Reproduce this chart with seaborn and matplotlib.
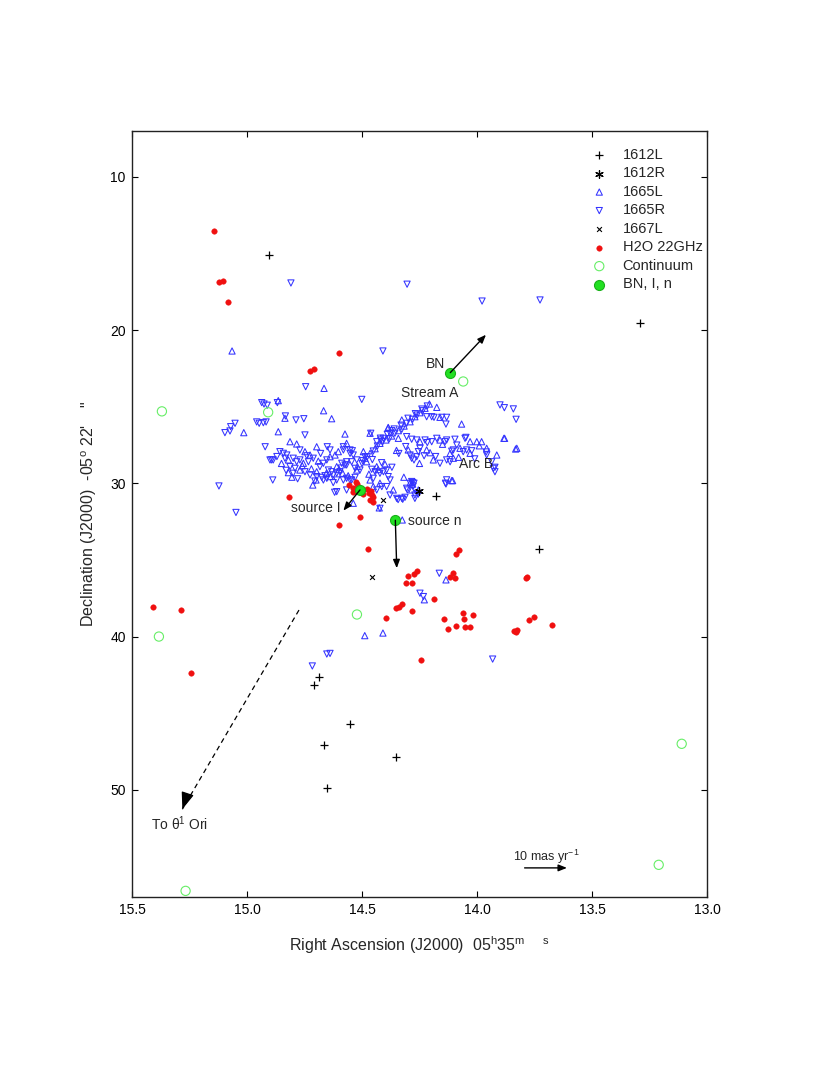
import seaborn as sns
import matplotlib.pyplot as plt
import numpy as np
import pandas as pd

width, height, my_dpi = 825, 1089, 100

# positions: RA seconds (05h35m) and Dec arcsec (-05d22')
l1612_ra = [14.904, 13.290, 14.178, 13.730, 14.688, 14.710, 14.552, 14.667, 14.352, 14.652]
l1612_dec = [15.09, 19.53, 30.80, 34.28, 42.64, 43.16, 45.69, 47.08, 47.86, 49.89]

r1612_ra = [14.252]
r1612_dec = [30.53]

l1667_ra = [14.410, 14.457]
l1667_dec = [31.09, 36.09]

l1665_ra = [15.065, 14.425, 14.325, 14.488, 14.409, 14.135, 13.880, 13.827, 14.665, 14.864,
            14.667, 14.632, 14.835, 15.014, 14.864, 14.813, 14.229, 14.538, 14.700, 14.714,
            14.697, 14.784, 14.748, 14.820, 14.755, 14.726, 14.770, 14.820, 14.697, 14.639,
            14.639, 14.610, 14.603, 14.567, 14.617, 14.523, 14.574, 14.494, 14.480, 14.436,
            14.465, 14.422, 14.451, 14.584, 14.386, 14.465, 14.342, 14.175, 14.248, 14.161,
            14.030, 14.001, 13.980, 13.958, 13.883, 13.832, 13.914, 14.074, 14.030, 14.117,
            14.103, 14.190, 14.219, 14.204, 14.299, 14.110, 14.284, 14.364, 14.255, 14.106,
            14.161, 14.067, 14.327, 14.386, 14.290, 14.280,
            14.207, 14.226, 14.248, 14.270, 14.291, 14.317, 14.342, 14.371, 14.396, 14.422,
            14.443, 14.465, 14.487,
            14.850, 14.805, 14.760, 14.720, 14.690, 14.655, 14.600, 14.560, 14.520, 14.470,
            14.430, 14.400, 14.350, 14.318, 14.250, 14.150, 14.080, 13.990]
l1665_dec = [21.36, 31.60, 32.39, 39.94, 39.77, 36.30, 27.06, 27.71, 23.80, 24.60,
             25.26, 25.78, 25.75, 26.69, 26.63, 27.28, 37.60, 31.30, 29.78, 30.11,
             27.61, 27.43, 27.93, 28.47, 28.69, 28.15, 29.13, 29.30, 29.24, 28.26,
             29.56, 28.91, 27.93, 27.39, 28.15, 29.13, 26.78, 27.93, 28.59, 28.91,
             29.78, 29.99, 30.21, 29.34, 26.35, 26.73, 27.06, 25.04, 27.28, 27.17,
             27.28, 27.28, 27.28, 27.71, 27.06, 27.76, 28.15, 27.71, 28.04, 28.04,
             28.36, 28.47, 27.82, 28.00, 27.82, 29.82, 30.43, 30.43, 30.43, 29.82,
             25.69, 26.13, 25.86, 26.39, 29.95, 30.05,
             24.82, 25.10, 25.39, 25.65, 25.98, 26.26, 26.56, 26.91, 27.17, 27.39,
             27.74, 28.04, 28.36,
             28.70, 29.60, 28.85, 29.05, 28.55, 29.35, 29.10, 29.50, 28.90, 29.40,
             29.10, 28.75, 27.85, 29.60, 28.70, 27.45, 28.30, 27.55]

r1665_ra = [14.809, 14.304, 13.978, 13.726, 14.409, 15.122, 15.048, 14.716, 14.653, 14.639,
            14.248, 14.233, 14.164, 13.932, 14.343, 14.323, 14.313, 13.900, 13.881, 13.842,
            13.830, 14.501, 14.745, 14.936, 14.926, 14.912, 14.868, 14.833, 14.787, 14.753,
            15.096, 15.074, 15.071, 15.052, 14.958, 14.947, 14.929, 14.917, 14.748, 14.921,
            14.886, 14.900, 14.893, 14.888, 14.770, 14.842, 14.827, 14.835, 14.857, 14.799,
            14.784, 14.770, 14.733, 14.712, 14.813, 14.791, 14.748, 14.799, 14.726, 14.683,
            14.668, 14.653, 14.646, 14.632, 14.697, 14.675, 14.661, 14.668, 14.653, 14.625,
            14.610, 14.596, 14.588, 14.574, 14.567, 14.581, 14.552, 14.542, 14.651, 14.639,
            14.610, 14.581, 14.552, 14.530, 14.610, 14.567, 14.619, 14.581, 14.552, 14.538,
            14.545, 14.523, 14.567, 14.530, 14.509, 14.487, 14.458, 14.443, 14.422, 14.407,
            14.393, 14.451, 14.386, 14.378, 14.414, 14.393, 14.436, 14.567, 14.545, 14.462,
            14.436, 14.419, 14.407, 14.371, 14.378, 14.153, 14.132, 14.219, 14.197, 14.187,
            14.135, 14.048, 14.306, 14.284, 14.262, 14.226, 14.216, 14.197, 14.175, 14.139,
            14.132, 14.096, 14.088, 14.052, 13.958, 13.936, 13.922, 13.929, 13.922, 14.060,
            14.045, 14.023, 14.103, 14.132, 14.117, 14.248, 14.255, 14.161, 14.291, 14.284,
            14.274, 14.262, 14.132, 14.135, 14.137, 14.284, 14.274, 14.277, 14.306, 14.349,
            14.327, 14.270, 14.255, 14.378, 14.422, 14.270, 14.260, 14.303, 14.290, 14.280,
            14.216, 14.236, 14.260, 14.280, 14.306, 14.327, 14.357, 14.381, 14.410, 14.433,
            14.451, 14.477, 14.497, 14.240, 14.268, 14.300, 14.330, 14.360, 14.390, 14.420,
            14.870, 14.830, 14.780, 14.740, 14.705, 14.680, 14.625, 14.590, 14.500, 14.455,
            14.415, 14.370, 14.340, 14.310, 14.230, 14.180, 14.110, 14.010, 13.960]
r1665_dec = [16.92, 17.00, 18.10, 18.03, 21.36, 30.17, 31.90, 41.92, 41.14, 41.10,
             37.17, 37.39, 35.87, 41.47, 31.06, 31.04, 30.91, 24.88, 25.06, 25.14,
             25.82, 24.52, 23.69, 24.73, 24.82, 24.90, 24.73, 25.60, 25.86, 25.78,
             26.69, 26.58, 26.30, 26.08, 25.99, 26.08, 26.04, 25.99, 26.84, 27.61,
             28.47, 28.47, 28.47, 29.78, 27.82, 28.04, 28.15, 28.36, 27.93, 28.36,
             28.59, 28.47, 28.59, 28.36, 28.91, 29.02, 29.24, 29.34, 29.45, 28.91,
             28.69, 28.47, 29.13, 29.24, 29.56, 29.61, 29.50, 29.78, 29.67, 29.45,
             29.34, 29.24, 28.69, 28.80, 28.59, 27.82, 28.04, 27.87, 27.61, 27.82,
             29.78, 29.78, 29.78, 29.61, 30.54, 30.43, 30.58, 27.61, 27.82, 28.15,
             28.59, 28.47, 28.80, 29.02, 29.13, 28.26, 29.08, 29.24, 29.34, 29.24,
             29.13, 29.67, 29.56, 29.78, 30.21, 30.21, 30.43, 29.67, 29.78, 26.73,
             27.28, 27.17, 27.06, 26.56, 26.73, 25.69, 25.69, 25.65, 25.65, 25.69,
             26.13, 27.00, 26.95, 27.12, 27.17, 27.17, 27.34, 27.28, 27.06, 27.28,
             27.17, 27.12, 27.50, 27.06, 28.15, 28.59, 29.24, 29.02, 28.95, 27.93,
             27.82, 27.87, 27.82, 28.47, 28.59, 27.71, 27.93, 28.69, 28.15, 28.36,
             28.47, 28.26, 29.77, 30.04, 29.99, 29.88, 29.99, 30.17, 30.32, 30.98,
             30.98, 30.98, 30.70, 30.76, 31.63, 30.76, 30.65, 30.43, 30.00, 29.95,
             24.95, 25.26, 25.54, 25.82, 26.08, 26.47, 26.73, 27.08, 27.28, 27.56,
             27.89, 28.26, 28.52, 25.15, 25.45, 25.75, 26.20, 26.45, 26.80, 27.05,
             28.25, 29.15, 29.70, 28.20, 29.85, 28.05, 29.95, 29.00, 28.70, 28.45,
             28.65, 28.95, 28.05, 27.60, 28.20, 28.25, 27.90, 28.40, 27.95]

h2o_ra = [15.145, 15.122, 15.106, 15.083, 14.601, 14.725, 14.710, 15.409, 15.288, 15.245,
          14.245, 14.397, 14.283, 14.353, 14.340, 14.325, 14.309, 14.281, 14.301, 14.275,
          14.260, 14.186, 14.125, 14.599, 14.510, 14.473, 14.093, 14.077, 14.117, 14.103,
          14.097, 14.061, 14.016, 14.055, 14.142, 14.090, 14.051, 14.029, 13.788, 13.784,
          13.839, 13.832, 13.825, 13.774, 13.751, 13.675, 14.555, 14.819, 14.538, 14.523,
          14.501, 14.480, 14.462, 14.465, 14.451, 14.458, 14.530, 14.538, 14.526, 14.494,
          14.468, 14.453]
h2o_dec = [13.51, 16.86, 16.79, 18.16, 21.49, 22.65, 22.54, 38.05, 38.27, 42.36,
           41.50, 38.80, 38.35, 38.16, 38.05, 37.87, 36.52, 36.50, 36.03, 35.94,
           35.72, 37.56, 39.48, 32.73, 32.17, 34.26, 34.60, 34.35, 36.09, 35.83,
           36.17, 38.45, 38.60, 38.87, 38.83, 39.33, 39.35, 39.37, 36.19, 36.11,
           39.61, 39.72, 39.55, 38.91, 38.72, 39.22, 30.13, 30.87, 30.28, 30.04,
           30.43, 30.35, 30.48, 31.09, 30.91, 30.76, 30.38, 30.54, 29.92, 30.70,
           30.61, 31.19]

cont_ra = [14.060, 15.370, 14.908, 15.383, 14.522, 13.110, 13.210, 15.267]
cont_dec = [23.35, 25.30, 25.36, 40.00, 38.56, 47.00, 54.90, 56.60]

# BN, source I, source n and the tips of their proper-motion arrows
bn_ra = [14.116, 14.509, 14.355]
bn_dec = [22.77, 30.43, 32.41]
tip_ra = [13.961, 14.581, 14.349]
tip_dec = [20.30, 31.78, 35.54]

# dashed arrow towards theta1 Ori and the 10 mas/yr scale arrow
ori_ra, ori_dec = [14.774, 15.281], [38.27, 51.27]
scale_ra, scale_dec = [13.793, 13.609], [55.10, 55.10]

sns.set_style("ticks")
plt.rcParams['font.family'] = ['Liberation Sans', 'DejaVu Sans']
plt.rcParams['mathtext.fontset'] = 'custom'
plt.rcParams['mathtext.rm'] = 'Liberation Sans'
plt.rcParams['mathtext.it'] = 'Liberation Sans:italic'

fig = plt.figure(figsize=(width / my_dpi, height / my_dpi), dpi=my_dpi)
fig.patch.set_facecolor('white')
ax = fig.add_axes([132 / width, 1 - 897 / height, 575 / width, 766 / height])

blue = '#3434ff'
series = [
    ('1665L', l1665_ra, l1665_dec, dict(marker='^', s=20, color=blue, facecolor='none', edgecolor=blue, linewidth=0.75)),
    ('1665R', r1665_ra, r1665_dec, dict(marker='v', s=20, color=blue, facecolor='none', edgecolor=blue, linewidth=0.75)),
    ('H2O 22GHz', h2o_ra, h2o_dec, dict(marker='o', s=16, color='#f01010', edgecolor='#f01010', linewidth=0.3)),
    ('1612L', l1612_ra, l1612_dec, dict(marker='+', s=28, color='black', linewidth=0.9)),
    ('1612R', r1612_ra, r1612_dec, dict(marker=(6, 2, 0), s=30, color='black', linewidth=0.9)),
    ('1667L', l1667_ra, l1667_dec, dict(marker='x', s=12, color='black', linewidth=0.8)),
    ('Continuum', cont_ra, cont_dec, dict(marker='o', s=44, color='#66ee66', facecolor='none', edgecolor='#66ee66', linewidth=0.8)),
    ('BN, I, n', bn_ra, bn_dec, dict(marker='o', s=52, color='#22e022', edgecolor='#19b019', linewidth=0.8)),
]
for name, ra, dec, kw in series:
    df = pd.DataFrame({'ra': ra, 'dec': dec})
    sns.scatterplot(data=df, x='ra', y='dec', ax=ax, label=name, zorder=3, **kw)

# proper motion arrows
for i in range(len(bn_ra)):
    ax.annotate('', xy=(tip_ra[i], tip_dec[i]), xytext=(bn_ra[i], bn_dec[i]),
                arrowprops=dict(arrowstyle='-|>,head_length=0.5,head_width=0.2', color='black',
                                lw=1.0, mutation_scale=10, shrinkA=0, shrinkB=0), zorder=4)
ax.plot(ori_ra, ori_dec, color='black', lw=0.9, ls=(0, (4, 3)))
ax.annotate('', xy=(ori_ra[1], ori_dec[1]), xytext=(ori_ra[1] - 0.02, ori_dec[1] - 0.9),
            arrowprops=dict(arrowstyle='-|>,head_length=0.8,head_width=0.3', color='black',
                            lw=0.9, mutation_scale=13, shrinkA=0, shrinkB=0))
ax.annotate('', xy=(scale_ra[1], scale_dec[1]), xytext=(scale_ra[0], scale_dec[0]),
            arrowprops=dict(arrowstyle='-|>,head_length=0.5,head_width=0.2', color='black',
                            lw=1.0, mutation_scale=10, shrinkA=0, shrinkB=0))

fs = 10
ax.text(14.14, 22.23, 'BN', fontsize=fs, ha='right', va='center')
ax.text(14.332, 24.12, 'Stream A', fontsize=fs, ha='left', va='center')
ax.text(14.077, 28.74, 'Arc B', fontsize=fs, ha='left', va='center')
ax.text(14.81, 31.63, 'source I', fontsize=fs, ha='left', va='center')
ax.text(14.30, 32.44, 'source n', fontsize=fs, ha='left', va='center')
ax.text(15.419, 52.19, 'To θ$^1$ Ori', fontsize=fs, ha='left', va='center')
ax.text(13.70, 54.35, '10 mas yr$^{-1}$', fontsize=fs - 1, ha='center', va='center')

ax.set_xlim(15.5, 13.0)
ax.set_ylim(57, 7)
ax.set_xticks([15.5, 15.0, 14.5, 14.0, 13.5, 13.0])
ax.set_xticklabels(['%.1f' % t for t in ax.get_xticks()])
ax.set_yticks([10, 20, 30, 40, 50])
ax.tick_params(direction='in', top=True, right=True, length=4, width=0.8,
               labelsize=fs, pad=4.5, colors='black')
for sp in ax.spines.values():
    sp.set_linewidth(1.0)
    sp.set_color('#222222')

ax.set_xlabel('Right Ascension (J2000)  05$^{\\rm h}$35$^{\\rm m}$    $^{\\rm s}$', fontsize=11.5, labelpad=12)
ax.set_ylabel('Declination (J2000)  -05$^{\\rm o}$ 22\'    "', fontsize=11.5, labelpad=8)

# legend in the upper-right corner, in the order of the reference
handles, labels = ax.get_legend_handles_labels()
order = ['1612L', '1612R', '1665L', '1665R', '1667L', 'H2O 22GHz', 'Continuum', 'BN, I, n']
hl = dict(zip(labels, handles))
ax.legend([hl[k] for k in order], order, loc='upper left', bbox_to_anchor=(0.80, 0.978),
          frameon=False, fontsize=fs + 0.5, handlelength=1.0, handletextpad=1.1,
          labelspacing=0.31, borderpad=0, borderaxespad=0, scatterpoints=1)

plt.savefig('out.png', dpi=my_dpi, facecolor='white')
